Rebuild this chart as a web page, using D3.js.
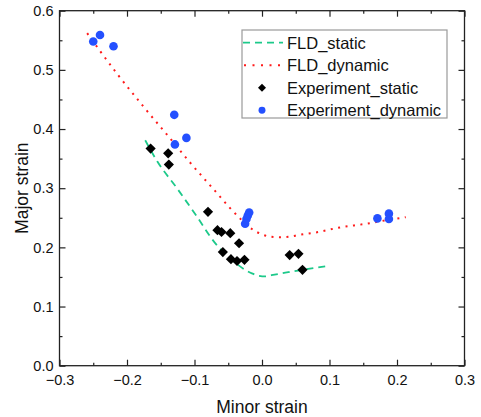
<!DOCTYPE html>
<html>
<head>
<meta charset="utf-8">
<script src="https://cdn.jsdelivr.net/npm/d3@7"></script>
<style>
  body { margin: 0; background: #fff; }
  svg { display: block; font-family: "Liberation Sans", Arial, sans-serif; }
</style>
</head>
<body>
<svg id="chart" width="481" height="417"></svg>
<script>
// FLD curves (minor strain, major strain)
const fldStaticX = [-0.173, -0.155, -0.126, -0.097, -0.070, -0.047, -0.035, -0.025, -0.015, -0.005, 0.005, 0.014, 0.039, 0.060, 0.095];
const fldStaticY = [0.381, 0.345, 0.300, 0.253, 0.208, 0.181, 0.170, 0.162, 0.156, 0.152, 0.151, 0.153, 0.158, 0.162, 0.168];

const fldDynamicX = [-0.259, -0.240, -0.213, -0.175, -0.136, -0.107, -0.067, -0.047, -0.030, -0.015, 0.000, 0.012, 0.027, 0.040, 0.055, 0.084, 0.112, 0.155, 0.185, 0.213];
const fldDynamicY = [0.562, 0.532, 0.491, 0.437, 0.384, 0.344, 0.292, 0.266, 0.246, 0.231, 0.222, 0.218, 0.217, 0.218, 0.221, 0.226, 0.233, 0.240, 0.246, 0.251];

// experiments
const expStaticX = [-0.165, -0.139, -0.138, -0.080, -0.066, -0.060, -0.047, -0.034, -0.058, -0.046, -0.037, -0.026, 0.041, 0.054, 0.060];
const expStaticY = [0.367, 0.359, 0.340, 0.260, 0.229, 0.226, 0.224, 0.207, 0.192, 0.180, 0.177, 0.179, 0.187, 0.189, 0.162];

const expDynamicX = [-0.250, -0.240, -0.220, -0.130, -0.129, -0.112, -0.019, -0.021, -0.023, -0.025, 0.171, 0.188, 0.188];
const expDynamicY = [0.548, 0.559, 0.540, 0.424, 0.374, 0.385, 0.259, 0.254, 0.248, 0.240, 0.249, 0.257, 0.248];

const xMajor = [-0.3, -0.2, -0.1, 0.0, 0.1, 0.2, 0.3];
const xMinor = [-0.25, -0.15, -0.05, 0.05, 0.15, 0.25];
const yMajor = [0.0, 0.1, 0.2, 0.3, 0.4, 0.5, 0.6];
const yMinor = [0.05, 0.15, 0.25, 0.35, 0.45, 0.55];

const legendNames = ["FLD_static", "FLD_dynamic", "Experiment_static", "Experiment_dynamic"];

const greenC = "#1cc98a", redC = "#ff1a1a", blueC = "#2450ff", ink = "#111";

const margin = { top: 10.7, right: 16.5, bottom: 51.3, left: 59.5 },
    width = 481 - margin.left - margin.right,
    height = 417 - margin.top - margin.bottom;

const svg = d3.select("#chart")
  .append("g")
    .attr("transform", `translate(${margin.left},${margin.top})`);

const x = d3.scaleLinear().domain([-0.3, 0.3]).range([0, width]);
const y = d3.scaleLinear().domain([0, 0.6]).range([height, 0]);

const fmt = d3.format(".1f");

// axes, ticks inward on all four sides
function styleAxis(g) {
  g.select(".domain").remove();
  g.selectAll("line").attr("stroke", "#222").attr("stroke-width", 1.2);
  g.selectAll("text").attr("fill", ink).style("font-size", "14.5px");
}

svg.append("g").attr("transform", `translate(0,${height})`)
  .call(d3.axisBottom(x).tickValues(xMajor).tickFormat(fmt).tickSizeInner(-6).tickSizeOuter(0).tickPadding(9))
  .call(styleAxis);
svg.append("g").attr("transform", `translate(0,${height})`)
  .call(d3.axisBottom(x).tickValues(xMinor).tickFormat("").tickSizeInner(-3).tickSizeOuter(0))
  .call(styleAxis);
svg.append("g")
  .call(d3.axisTop(x).tickValues(xMajor).tickFormat("").tickSizeInner(-6).tickSizeOuter(0))
  .call(styleAxis);
svg.append("g")
  .call(d3.axisTop(x).tickValues(xMinor).tickFormat("").tickSizeInner(-3).tickSizeOuter(0))
  .call(styleAxis);

svg.append("g")
  .call(d3.axisLeft(y).tickValues(yMajor).tickFormat(fmt).tickSizeInner(-6).tickSizeOuter(0).tickPadding(6))
  .call(styleAxis);
svg.append("g")
  .call(d3.axisLeft(y).tickValues(yMinor).tickFormat("").tickSizeInner(-3).tickSizeOuter(0))
  .call(styleAxis);
svg.append("g").attr("transform", `translate(${width},0)`)
  .call(d3.axisRight(y).tickValues(yMajor).tickFormat("").tickSizeInner(-6).tickSizeOuter(0))
  .call(styleAxis);
svg.append("g").attr("transform", `translate(${width},0)`)
  .call(d3.axisRight(y).tickValues(yMinor).tickFormat("").tickSizeInner(-3).tickSizeOuter(0))
  .call(styleAxis);

// frame
svg.append("rect")
  .attr("width", width)
  .attr("height", height)
  .attr("fill", "none")
  .attr("stroke", "#222")
  .attr("stroke-width", 1.3);

// axis titles
svg.append("text")
  .attr("x", width / 2)
  .attr("y", height + 47)
  .attr("text-anchor", "middle")
  .attr("fill", ink)
  .style("font-size", "17.5px")
  .text("Minor strain");

svg.append("text")
  .attr("transform", `translate(${28 - margin.left},${height / 2}) rotate(-90)`)
  .attr("text-anchor", "middle")
  .attr("fill", ink)
  .style("font-size", "17.5px")
  .text("Major strain");

// curves
const line = d3.line()
  .x(d => x(d[0]))
  .y(d => y(d[1]))
  .curve(d3.curveMonotoneX);

svg.append("path")
  .datum(d3.zip(fldStaticX, fldStaticY))
  .attr("d", line)
  .attr("fill", "none")
  .attr("stroke", greenC)
  .attr("stroke-width", 1.8)
  .attr("stroke-dasharray", "7,5");

svg.append("path")
  .datum(d3.zip(fldDynamicX, fldDynamicY))
  .attr("d", line)
  .attr("fill", "none")
  .attr("stroke", redC)
  .attr("stroke-width", 2)
  .attr("stroke-dasharray", "2,5.5");

// points
const diamond = d3.symbol().type(d3.symbolSquare).size(52);
const circle = d3.symbol().type(d3.symbolCircle).size(58);

svg.append("g")
  .selectAll("path")
  .data(d3.zip(expStaticX, expStaticY))
  .join("path")
    .attr("transform", d => `translate(${x(d[0])},${y(d[1])}) rotate(45)`)
    .attr("d", diamond)
    .attr("fill", "#000");

svg.append("g")
  .selectAll("path")
  .data(d3.zip(expDynamicX, expDynamicY))
  .join("path")
    .attr("transform", d => `translate(${x(d[0])},${y(d[1])})`)
    .attr("d", circle)
    .attr("fill", blueC);

// Legend
const lg = d3.select("#chart").append("g")
  .attr("transform", "translate(242,30)");

lg.append("rect")
  .attr("width", 205)
  .attr("height", 88)
  .attr("fill", "#fff")
  .attr("stroke", "#9a9a9a")
  .attr("stroke-width", 1.2);

const item = lg.selectAll(".item")
  .data(legendNames)
  .join("g")
    .attr("transform", (d, i) => `translate(0,${12.7 + i * 22.5})`);

item.append("text")
  .attr("x", 45)
  .attr("y", 6)
  .attr("fill", ink)
  .style("font-size", "16.5px")
  .text(d => d);

item.filter((d, i) => i === 0).append("line")
  .attr("x1", 1).attr("x2", 41)
  .attr("stroke", greenC).attr("stroke-width", 1.8)
  .attr("stroke-dasharray", "7,5");

item.filter((d, i) => i === 1).append("line")
  .attr("x1", 2).attr("x2", 41)
  .attr("stroke", redC).attr("stroke-width", 2)
  .attr("stroke-dasharray", "2,6.5");

item.filter((d, i) => i === 2).append("path")
  .attr("transform", "translate(20,0) rotate(45)")
  .attr("d", d3.symbol().type(d3.symbolSquare).size(32))
  .attr("fill", "#000");

item.filter((d, i) => i === 3).append("path")
  .attr("transform", "translate(20,0)")
  .attr("d", d3.symbol().type(d3.symbolCircle).size(38))
  .attr("fill", blueC);
</script>
</body>
</html>
